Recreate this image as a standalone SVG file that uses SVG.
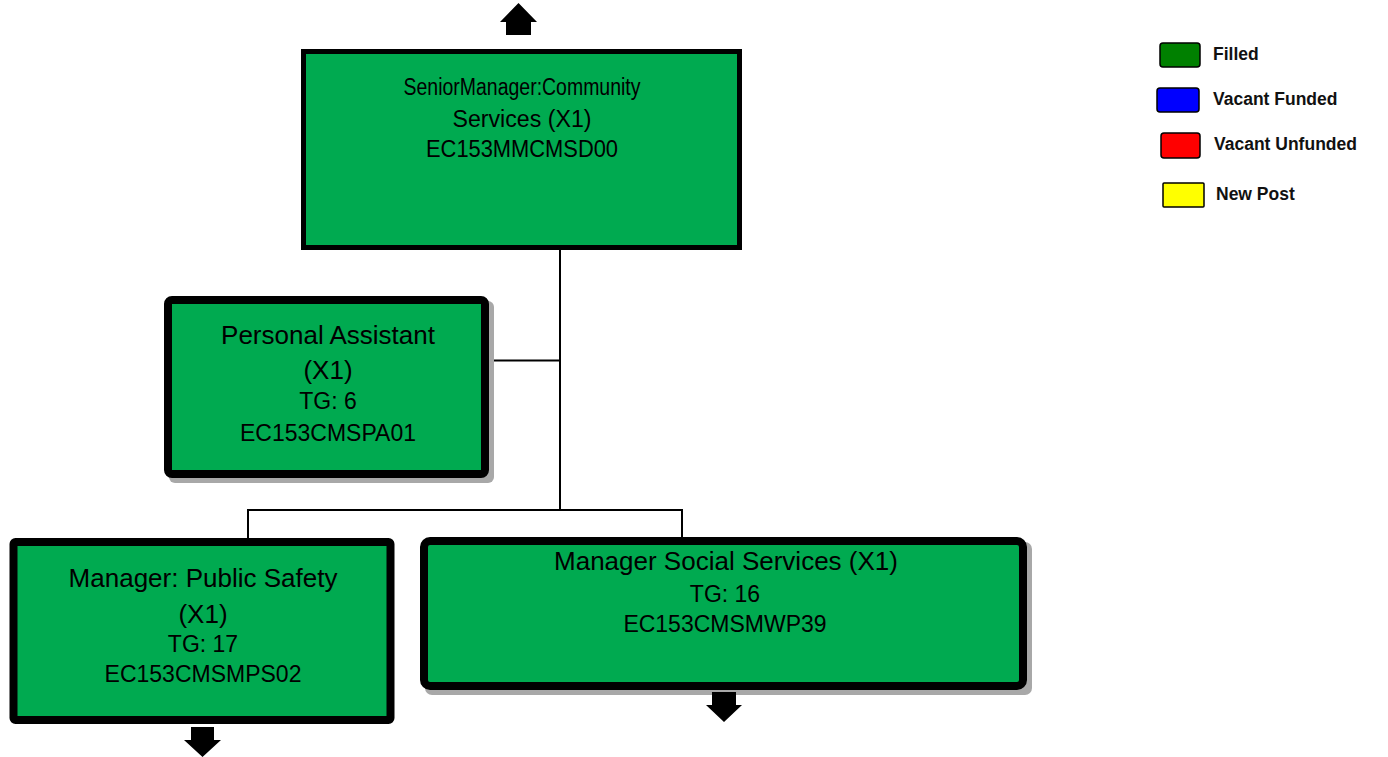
<svg xmlns="http://www.w3.org/2000/svg" width="1388" height="757" viewBox="0 0 1388 757">
<style>
.node{fill:#00AA50;stroke:#000;}
.shadow{fill:#a8a8a8;}
.t{font-family:"Liberation Sans",Arial,sans-serif;fill:#000;text-anchor:middle;}
.title{font-size:26px;}
.detail{font-size:23px;}
.top{font-size:23px;}
.leg{font-family:"Liberation Sans",Arial,sans-serif;font-weight:bold;font-size:17.5px;fill:#111;}
.lbox{stroke:#000;stroke-width:1.5;}
.conn{stroke:#000;stroke-width:2;fill:none;}
.arrow{fill:#000;}
</style>
<rect width="1388" height="757" fill="#fff"/>
<g id="connectors">
  <line class="conn" x1="560" y1="250" x2="560" y2="510"/>
  <line class="conn" x1="494" y1="360.5" x2="560" y2="360.5"/>
  <line class="conn" x1="248" y1="510" x2="682" y2="510"/>
  <line class="conn" x1="248" y1="509" x2="248" y2="539"/>
  <line class="conn" x1="682" y1="509" x2="682" y2="538"/>
</g>
<g id="node-senior-manager">
  <polygon class="arrow" points="518.5,3 537,22 531,22 531,35 506,35 506,22 500,22"/>
  <rect class="node" x="303.5" y="51.5" width="436" height="196" stroke-width="5"/>
  <text class="t top" x="522" y="95" textLength="237" lengthAdjust="spacingAndGlyphs">SeniorManager:Community</text>
  <text class="t top" x="522" y="127" textLength="139" lengthAdjust="spacingAndGlyphs">Services (X1)</text>
  <text class="t top" x="522" y="157" textLength="192" lengthAdjust="spacingAndGlyphs">EC153MMCMSD00</text>
</g>
<g id="node-personal-assistant">
  <rect class="shadow" x="169" y="301" width="325" height="182" rx="6"/>
  <rect class="node" x="168" y="300" width="317" height="174" rx="4" stroke-width="8"/>
  <text class="t title" x="328" y="344">Personal Assistant</text>
  <text class="t title" x="328" y="379">(X1)</text>
  <text class="t detail" x="328" y="409">TG: 6</text>
  <text class="t detail" x="328" y="441">EC153CMSPA01</text>
</g>
<g id="node-public-safety">
  <rect class="node" x="13.5" y="542" width="377" height="178" rx="2" stroke-width="8"/>
  <text class="t title" x="203" y="587">Manager: Public Safety</text>
  <text class="t title" x="203" y="623">(X1)</text>
  <text class="t detail" x="203" y="652">TG: 17</text>
  <text class="t detail" x="203" y="682">EC153CMSMPS02</text>
  <polygon class="arrow" points="191,727 214,727 214,740 221,740 202.5,757 184,740 191,740"/>
</g>
<g id="node-social-services">
  <rect class="shadow" x="425" y="542" width="607" height="153" rx="7"/>
  <rect class="node" x="424" y="541" width="599" height="145" rx="6" stroke-width="8"/>
  <text class="t title" x="726" y="570">Manager Social Services (X1)</text>
  <text class="t detail" x="725" y="602">TG: 16</text>
  <text class="t detail" x="725" y="632">EC153CMSMWP39</text>
  <polygon class="arrow" points="712,692 736,692 736,705 742,705 724,722 706,705 712,705"/>
</g>
<g id="legend">
  <rect class="lbox" x="1160" y="43" width="40" height="24" rx="3" fill="#008000"/>
  <text class="leg" x="1213" y="60">Filled</text>
  <rect class="lbox" x="1157" y="88" width="42" height="24" rx="3" fill="#0000ff"/>
  <text class="leg" x="1213" y="105">Vacant Funded</text>
  <rect class="lbox" x="1161" y="133" width="39" height="25" rx="3" fill="#ff0000"/>
  <text class="leg" x="1214" y="150">Vacant Unfunded</text>
  <rect class="lbox" x="1163" y="183" width="41" height="24" rx="1" fill="#ffff00"/>
  <text class="leg" x="1216" y="200">New Post</text>
</g>
</svg>
